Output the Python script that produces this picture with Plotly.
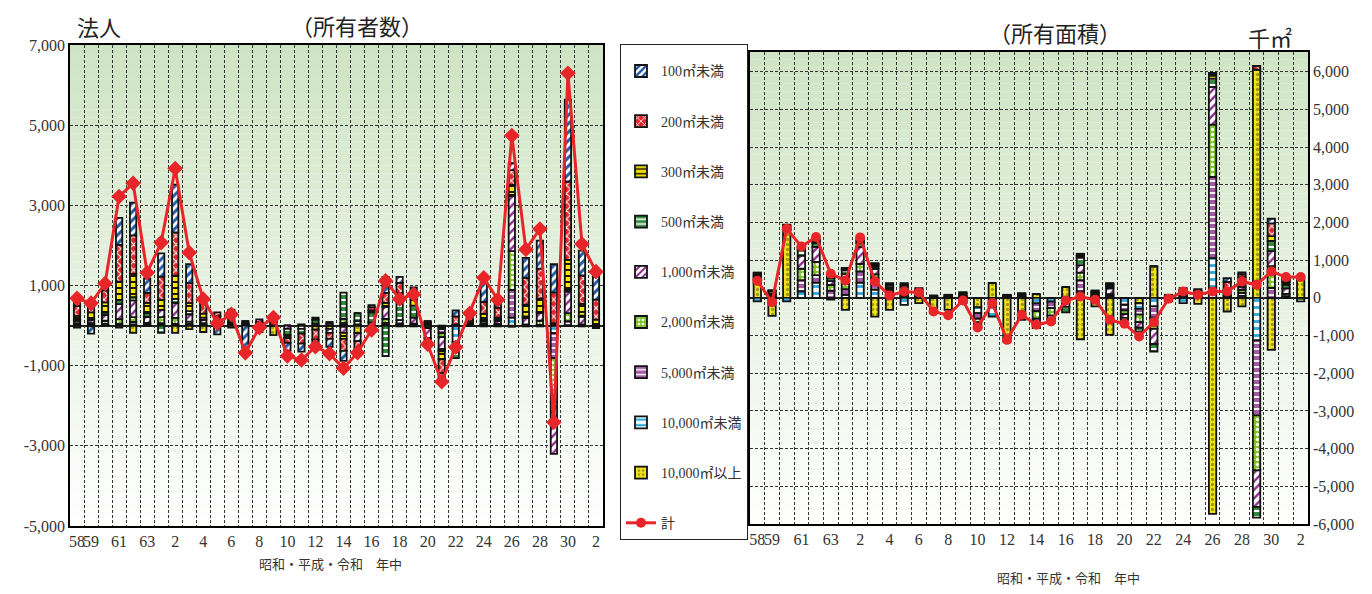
import plotly.graph_objects as go

# ---------------- data ----------------
cats = ["S58", "S59", "S60", "S61", "S62", "S63"] + [f"H{i}" for i in range(1, 31)] + ["R1", "R2"]
tick_labels = ["58", "59", "", "61", "", "63",
               "", "2", "", "4", "", "6", "", "8", "", "10", "", "12", "", "14", "", "16", "", "18",
               "", "20", "", "22", "", "24", "", "26", "", "28", "", "30",
               "", "2"]

series_names = ["100㎡未満", "200㎡未満", "300㎡未満", "500㎡未満", "1,000㎡未満",
                "2,000㎡未満", "5,000㎡未満", "10,000㎡未満", "10,000㎡以上"]

# 所有者数 (法人)
own_100 = [100, -180, 60, 670, 820, 360, 580, 1190, 475, 100, -220, 50, -550, 60, 30, -200, -200, -150, -200, -250, -100, 50, 400, 150, 200, 30, -150, 150, 150, 480, 150, 170, 500, 700, 700, 2040, 620, 660]
own_200 = [250, 150, 300, 920, 960, 250, 580, 1080, 500, 250, 100, 80, 40, 30, 20, -120, -250, -250, -150, -300, -250, 80, 250, 250, 100, -200, -350, 200, 50, 300, 250, 370, 670, 750, 770, 1955, 710, 500]
own_300 = [80, 150, 250, 460, 580, 250, 250, 580, 200, 100, 80, 50, 30, 20, 20, -80, 30, 50, 40, -150, 0, 50, 100, 80, 150, 20, -200, 20, 30, 150, 50, 250, 290, 330, 60, 750, 290, 150]
own_500 = [40, 40, 60, 100, 80, 100, -180, 100, 80, 60, 60, 120, 20, 30, 60, -150, -120, 100, 50, 650, 200, 250, -760, 600, 300, 40, -50, -400, 20, 40, 30, 30, 40, 20, 0, 40, 30, 0]
own_1000 = [60, 80, 150, 375, 420, 150, 180, 375, 180, 80, 50, 40, 10, 10, 10, -80, -80, 50, -100, -150, -200, 80, 300, 80, 150, -250, -300, 10, 30, 60, 80, 1370, 160, 200, -1290, 540, 190, 0]
own_2000 = [30, 30, 80, 110, 120, 50, 150, 150, 60, 40, 30, 30, 10, 5, 5, 0, 0, 0, 0, 100, 80, 0, 100, 30, 30, 20, -100, 0, 0, 20, 20, 970, 20, 100, -1100, 200, 20, 0]
own_5000 = [20, 20, 20, 40, 60, 10, 40, 30, 30, 10, 10, 20, 5, 0, 0, 0, 0, 0, 0, 50, 20, 0, 50, 20, 10, 5, -100, 0, 0, 10, 10, 690, 10, 20, -620, 100, 10, 0]
own_10000 = [10, 10, 10, 10, 30, 5, 20, 10, 10, 10, 0, 10, 0, 0, 0, 0, 0, 0, 0, 20, 10, 0, 15, 5, 10, 0, -50, -410, 0, 10, 10, 200, 0, 0, -190, 10, 0, 0]
own_10kp = [-50, -20, 10, -50, -180, 0, 0, -180, -90, -160, 0, -50, 0, -160, -240, 0, 0, -100, -80, -30, -190, 0, 0, -20, -20, -60, -40, 0, 0, -20, -20, -30, -20, -20, 0, 0, -20, -60]
own_total = [680, 560, 1050, 3220, 3550, 1320, 2070, 3920, 1820, 660, 60, 280, -680, -50, 200, -760, -860, -525, -700, -1065, -675, -110, 1120, 663, 780, -467, -1400, -540, 305, 1195, 645, 4740, 1900, 2410, -2410, 6295, 2036, 1345]

# 所有面積 (千㎡)
area_100 = [20, 10, 20, 20, 20, 20, 10, 20, 20, 50, 50, 40, 10, 10, 30, 0, 0, 10, 20, 0, 0, 0, 30, 40, 20, 0, 0, 0, 20, 50, 50, 30, 100, 50, 0, 124, 50, 0]
area_200 = [40, 20, 30, 30, 30, 30, 20, 30, 30, 60, 60, 40, 10, 10, 30, 0, 0, 10, 20, 0, 0, 0, 30, 40, 30, 0, 0, 0, 20, 50, 50, 40, 200, 80, 100, 336, 50, 0]
area_300 = [30, 60, 40, 40, 50, 40, 30, 40, 40, 100, 80, 60, 20, 20, 40, 0, 0, 20, 30, 0, 0, 0, 40, 50, 40, 0, 0, 0, 20, 80, 60, 80, 50, 150, 0, 133, 70, 0]
area_500 = [30, 30, 20, 150, 100, 80, 100, 100, 60, 60, 60, 40, 10, 15, 20, -50, 0, 10, 20, -100, -100, -150, 200, 30, 50, -50, -100, -200, 10, 40, 30, 220, 50, 100, -283, 266, 100, -97]
area_1000 = [40, 30, 20, 350, 400, 100, 250, 450, 150, 60, 60, 30, 5, 10, 15, -100, 0, 10, 15, -150, -100, -100, 200, 20, 150, -100, -150, -400, 5, 20, 20, 1000, 60, 80, -972, 398, 150, 0]
area_2000 = [30, 20, 10, 300, 350, 150, 150, 200, 100, 30, 40, 20, 5, 10, 10, -100, 0, 10, 10, -200, -200, -100, 200, 10, 50, -100, -200, -300, 3, 10, 10, 1390, 40, 80, -1457, 575, 60, 0]
area_5000 = [100, 20, 0, 300, 200, 190, 150, 300, 300, 20, 20, 20, 2, 5, 5, -150, 0, 10, 9, -205, -172, -39, 300, 5, 50, -150, -150, -300, 2, 7, 10, 2150, 22, 80, -1988, 265, 42, 0]
area_10000 = [-97, 10, -97, 170, 400, 0, 80, 400, 220, 10, -186, 7, 0, 0, 0, -150, -496, -100, -150, -150, -100, 0, 168, 0, 0, -184, -150, -225, 0, -142, 0, 1055, 0, 53, -1130, 0, 0, 0]
area_10kp = [380, -478, 1800, 0, 0, -50, -320, 0, -500, -320, 20, -142, -320, -320, -142, -255, 390, -1060, -434, 97, 0, 283, -1100, -230, -982, 0, -144, 832, -97, 0, -160, -5730, -363, -230, 6050, -1380, 0, 549]
area_total = [451, -115, 1832, 1363, 1611, 637, 460, 1602, 434, 62, 168, 142, -363, -460, -71, -788, -142, -1115, -451, -717, -628, -71, 35, -53, -584, -690, -1027, -646, -27, 168, 80, 168, 168, 434, 345, 699, 549, 549]

own_series = [own_100, own_200, own_300, own_500, own_1000, own_2000, own_5000, own_10000, own_10kp]
area_series = [area_100, area_200, area_300, area_500, area_1000, area_2000, area_5000, area_10000, area_10kp]

left_ticks = [7000, 5000, 3000, 1000, -1000, -3000, -5000]
left_tick_text = ["7,000", "5,000", "3,000", "1,000", "-1,000", "-3,000", "-5,000"]
right_ticks = [6000, 5000, 4000, 3000, 2000, 1000, 0, -1000, -2000, -3000, -4000, -5000, -6000]
right_tick_text = ["6,000", "5,000", "4,000", "3,000", "2,000", "1,000", "0",
                   "-1,000", "-2,000", "-3,000", "-4,000", "-5,000", "-6,000"]

# ---------------- styles ----------------
styles = [
    dict(bg="#ffffff", fg="#1f5aa8", shape="/", size=6, sol=0.5),
    dict(bg="#e3262b", fg="#ffffff", shape="x", size=6, sol=0.3),
    dict(bg="#f7e600", fg="#000000", shape="-", size=6, sol=0.3),
    dict(bg="#2e8b3a", fg="#ffffff", shape="-", size=6, sol=0.35),
    dict(bg="#ffffff", fg="#8b2a8b", shape="/", size=6, sol=0.4),
    dict(bg="#7dc42b", fg="#ffffff", shape=".", size=5, sol=0.35),
    dict(bg="#a35aa3", fg="#ffffff", shape="-", size=6, sol=0.3),
    dict(bg="#ffffff", fg="#29a8e0", shape="-", size=7, sol=0.4),
    dict(bg="#f5e31a", fg="#9a9a20", shape=".", size=5, sol=0.35),
]

FONT = "Liberation Serif, Noto Sans CJK JP, serif"
JFONT = "Noto Sans CJK JP, sans-serif"

fig = go.Figure()

# stack order: 10,000㎡以上 at bottom ... 100㎡未満 on top
for k in reversed(range(9)):
    st = styles[k]
    mk = dict(color=st["bg"], line=dict(color="#111111", width=1.8),
              pattern=dict(shape=st["shape"], fgcolor=st["fg"], bgcolor=st["bg"],
                           size=st["size"], solidity=st["sol"], fillmode="replace"))
    fig.add_trace(go.Bar(x=cats, y=own_series[k], name=series_names[k], marker=mk,
                         width=0.45, xaxis="x", yaxis="y", legendgroup=series_names[k],
                         legendrank=k + 1, showlegend=True))
    fig.add_trace(go.Bar(x=cats, y=area_series[k], name=series_names[k], marker=mk,
                         width=0.5, xaxis="x2", yaxis="y2", legendgroup=series_names[k],
                         legendrank=k + 1, showlegend=False))

RED = "#e8262a"
fig.add_trace(go.Scatter(x=cats, y=own_total, name="計", mode="lines+markers",
                         line=dict(color=RED, width=3),
                         marker=dict(symbol="diamond", size=12, color=RED),
                         xaxis="x", yaxis="y", legendgroup="計", legendrank=10, showlegend=False))
fig.add_trace(go.Scatter(x=cats, y=area_total, name="計", mode="lines+markers",
                         line=dict(color=RED, width=3),
                         marker=dict(symbol="circle", size=10, color=RED),
                         xaxis="x2", yaxis="y2", legendgroup="計", legendrank=10, showlegend=True))

# page has an 8px body margin: size the figure so the page is exactly 1372x594
OFF = 8
W, H = 1372 - 2 * OFF, 594 - 2 * OFF
def px(x): return (x - OFF) / W
def py(y): return 1 - (y - OFF) / H

# gradient background stripes (styling only)
shapes = []
N = 60
top = (206, 228, 195)
for ax in ("x", "x2"):
    yr = "y" if ax == "x" else "y2"
    for i in range(N):
        t = (i + 0.5) / N  # 0 bottom .. 1 top
        c = tuple(int(round(255 + (top[j] - 255) * t)) for j in range(3))
        shapes.append(dict(type="rect", xref=f"{ax} domain", yref=f"{yr} domain",
                           x0=0, x1=1, y0=i / N, y1=(i + 1) / N, layer="below",
                           line=dict(width=0), fillcolor=f"rgb{c}"))

xcommon = dict(type="category", categoryorder="array", categoryarray=cats,
               tickmode="array", tickvals=cats, ticktext=tick_labels, tickson="boundaries",
               tickangle=0, automargin=False,
               showgrid=True, gridcolor="#333333", griddash="3px,2px", gridwidth=1,
               ticks="", showline=True, linecolor="black", linewidth=1.5, mirror=True,
               range=[-0.5, 37.5], tickfont=dict(family=FONT, size=16, color="#333333"))
ycommon = dict(tickmode="array", showgrid=True, gridcolor="#333333", griddash="3px,2px",
               gridwidth=1, zeroline=True, zerolinecolor="#222222", zerolinewidth=1.5,
               showline=True, linecolor="black", linewidth=1.5, mirror=True, ticks="",
               automargin=False, tickfont=dict(family=FONT, size=16, color="#333333"))

fig.update_layout(
    width=W, height=H, autosize=False,
    margin=dict(l=0, r=0, t=0, b=0, pad=0),
    paper_bgcolor="white", plot_bgcolor="rgba(0,0,0,0)",
    barmode="relative",
    font=dict(family=FONT, color="#333333"),
    xaxis=dict(domain=[px(70), px(603)], anchor="y", **xcommon),
    yaxis=dict(domain=[py(526), py(45)], anchor="x", range=[-5000, 7000],
               tickvals=left_ticks, ticktext=left_tick_text, **ycommon),
    xaxis2=dict(domain=[px(750), px(1308)], anchor="y2", **xcommon),
    yaxis2=dict(domain=[py(524), py(52)], anchor="x2", side="right", range=[-6000, 6520],
                tickvals=right_ticks, ticktext=right_tick_text, **ycommon),
    shapes=shapes,
    legend=dict(x=px(620), y=py(44), xanchor="left", yanchor="top",
                bgcolor="white", bordercolor="#222222", borderwidth=1,
                font=dict(family=FONT, size=14, color="#333333"),
                title=dict(text=" ", font=dict(size=8)),
                traceorder="grouped", tracegroupgap=29, itemwidth=30),
    annotations=[
        dict(text="法人", x=px(75), y=py(26), xref="paper", yref="paper", xanchor="left",
             yanchor="middle", showarrow=False, font=dict(family=JFONT, size=22, color="#222222")),
        dict(text="（所有者数）", x=px(357), y=py(25), xref="paper", yref="paper",
             xanchor="center", yanchor="middle", showarrow=False,
             font=dict(family=JFONT, size=22, color="#222222")),
        dict(text="（所有面積）", x=px(1055), y=py(32), xref="paper", yref="paper",
             xanchor="center", yanchor="middle", showarrow=False,
             font=dict(family=JFONT, size=22, color="#222222")),
        dict(text="千㎡", x=px(1270), y=py(37), xref="paper", yref="paper",
             xanchor="center", yanchor="middle", showarrow=False,
             font=dict(family=JFONT, size=22, color="#222222")),
        dict(text="昭和・平成・令和　年中", x=px(330), y=py(563), xref="paper", yref="paper",
             xanchor="center", yanchor="middle", showarrow=False,
             font=dict(family=JFONT, size=13, color="#333333")),
        dict(text="昭和・平成・令和　年中", x=px(1068), y=py(577), xref="paper", yref="paper",
             xanchor="center", yanchor="middle", showarrow=False,
             font=dict(family=JFONT, size=13, color="#333333")),
    ],
)

fig.write_html("out.html")
